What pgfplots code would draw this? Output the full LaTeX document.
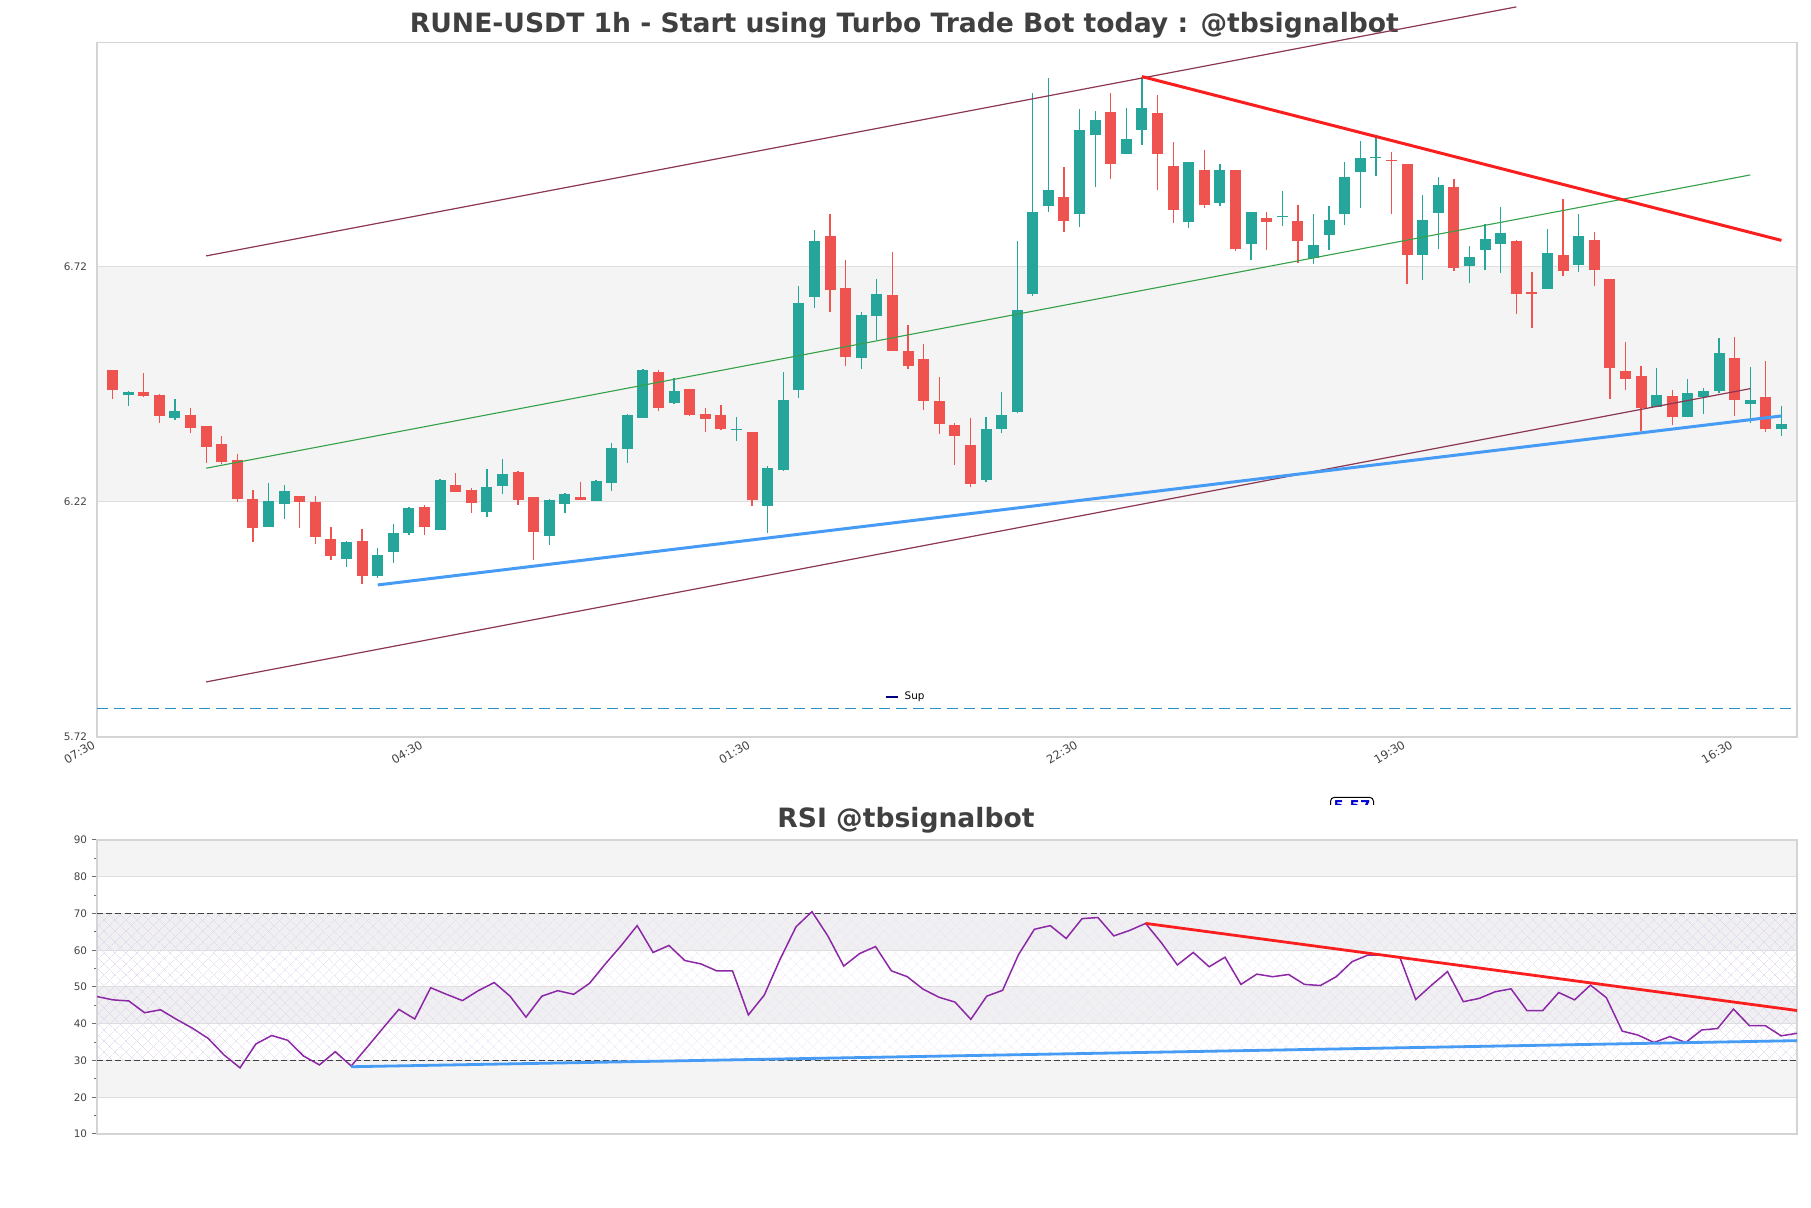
\documentclass[border=0pt]{standalone}
\usepackage{fontspec}
\setmainfont{DejaVu Sans}
\usepackage{pgfplots}
\pgfplotsset{compat=1.18}
\usepackage{pgfplotstable}
\usetikzlibrary{patterns.meta}
\definecolor{cgreen}{RGB}{38,166,154}
\definecolor{cred}{RGB}{239,83,80}
\definecolor{band}{RGB}{244,244,244}
\definecolor{band2}{RGB}{240,240,242}
\definecolor{gridgray}{RGB}{222,222,222}
\definecolor{bordergray}{RGB}{212,212,212}
\definecolor{chan}{RGB}{140,55,80}
\definecolor{midgreen}{RGB}{52,160,72}
\definecolor{resred}{RGB}{250,30,30}
\definecolor{supblue}{RGB}{70,155,245}
\definecolor{dashteal}{RGB}{40,145,195}
\definecolor{legnavy}{RGB}{0,0,128}
\definecolor{rsipurple}{RGB}{140,40,165}
\definecolor{hatch}{RGB}{215,200,232}
\definecolor{titlegray}{RGB}{64,64,64}
\definecolor{ticktext}{RGB}{68,68,68}
\definecolor{tickgray}{RGB}{110,110,110}
\definecolor{boxblue}{RGB}{0,0,205}
\newcommand{\tickfont}{\fontsize{5.2pt}{6pt}\selectfont}
\newcommand{\xtickfont}{\fontsize{5.8pt}{6.5pt}\selectfont}
\newcommand{\titlefont}{\fontsize{13.3pt}{15pt}\selectfont\bfseries}

\pgfplotstableread{
x o h l c
2 6.447 6.454 6.423 6.452
5 6.398 6.437 6.394 6.412
11 6.167 6.259 6.167 6.221
12 6.215 6.255 6.183 6.242
16 6.099 6.136 6.082 6.135
18 6.063 6.121 6.058 6.107
19 6.114 6.172 6.090 6.153
20 6.153 6.208 6.150 6.206
22 6.160 6.268 6.160 6.266
25 6.199 6.289 6.188 6.251
26 6.254 6.311 6.236 6.278
29 6.148 6.225 6.128 6.223
30 6.214 6.239 6.196 6.236
32 6.222 6.266 6.222 6.263
33 6.260 6.344 6.243 6.334
34 6.332 6.406 6.302 6.403
35 6.398 6.502 6.398 6.499
37 6.430 6.483 6.427 6.454
41 6.372 6.399 6.349 6.374
43 6.211 6.296 6.153 6.291
44 6.288 6.495 6.285 6.435
45 6.457 6.679 6.441 6.641
46 6.654 6.798 6.631 6.773
49 6.525 6.623 6.502 6.616
50 6.614 6.692 6.563 6.662
57 6.266 6.399 6.261 6.374
58 6.374 6.453 6.365 6.403
59 6.411 6.773 6.408 6.628
60 6.662 7.088 6.657 6.836
61 6.847 7.120 6.835 6.881
63 6.830 7.054 6.803 7.010
64 6.998 7.050 6.888 7.031
66 6.958 7.056 6.958 6.991
67 7.009 7.123 6.977 7.057
70 6.814 6.942 6.802 6.942
72 6.855 6.938 6.848 6.925
74 6.768 6.836 6.733 6.836
76 6.825 6.879 6.805 6.827
78 6.737 6.830 6.725 6.766
79 6.787 6.847 6.754 6.819
80 6.830 6.942 6.807 6.910
81 6.920 6.987 6.843 6.951
82 6.950 6.996 6.911 6.952
85 6.744 6.872 6.691 6.819
86 6.833 6.909 6.756 6.893
88 6.720 6.763 6.685 6.740
89 6.754 6.809 6.713 6.777
90 6.767 6.845 6.706 6.790
93 6.671 6.800 6.671 6.749
95 6.722 6.832 6.708 6.784
100 6.420 6.503 6.420 6.446
102 6.399 6.481 6.399 6.450
103 6.442 6.461 6.407 6.454
104 6.455 6.567 6.450 6.535
106 6.428 6.506 6.386 6.435
108 6.374 6.423 6.360 6.384
}\greendata

\pgfplotstableread{
x o h l c
1 6.499 6.499 6.437 6.457
3 6.453 6.493 6.442 6.445
4 6.446 6.448 6.387 6.402
6 6.403 6.418 6.365 6.377
7 6.380 6.380 6.303 6.336
8 6.342 6.360 6.300 6.305
9 6.308 6.321 6.220 6.225
10 6.225 6.245 6.135 6.165
13 6.232 6.232 6.165 6.220
14 6.220 6.232 6.131 6.145
15 6.141 6.166 6.095 6.105
17 6.136 6.162 6.044 6.061
21 6.208 6.213 6.150 6.167
23 6.255 6.280 6.241 6.241
24 6.244 6.250 6.196 6.218
27 6.283 6.285 6.213 6.224
28 6.230 6.230 6.097 6.156
31 6.230 6.261 6.223 6.224
36 6.495 6.499 6.413 6.419
38 6.459 6.459 6.402 6.404
39 6.406 6.418 6.368 6.396
40 6.403 6.425 6.372 6.374
42 6.367 6.367 6.211 6.224
47 6.785 6.832 6.623 6.669
48 6.673 6.734 6.508 6.528
51 6.660 6.750 6.540 6.540
52 6.541 6.596 6.502 6.509
53 6.522 6.555 6.415 6.434
54 6.433 6.484 6.364 6.385
55 6.382 6.387 6.297 6.360
56 6.340 6.397 6.252 6.257
62 6.867 6.931 6.793 6.816
65 7.048 7.088 6.905 6.937
68 7.045 7.084 6.881 6.958
69 6.934 6.983 6.811 6.839
71 6.925 6.968 6.843 6.850
73 6.925 6.925 6.752 6.756
75 6.823 6.835 6.754 6.814
77 6.817 6.851 6.727 6.773
83 6.946 6.962 6.830 6.944
84 6.938 6.938 6.682 6.744
87 6.889 6.906 6.710 6.716
91 6.773 6.775 6.618 6.661
92 6.666 6.708 6.589 6.662
94 6.745 6.862 6.700 6.710
96 6.775 6.792 6.678 6.712
97 6.692 6.692 6.439 6.504
98 6.497 6.559 6.457 6.481
99 6.486 6.508 6.370 6.418
101 6.444 6.457 6.383 6.399
105 6.526 6.570 6.402 6.436
107 6.442 6.518 6.367 6.374
}\reddata

\begin{document}
\begin{tikzpicture}
\path (0,0) rectangle (905.5pt,604pt);
\node[anchor=base, text=titlegray, font=\titlefont, inner sep=0pt] at (452.2pt,587.9pt) {RUNE-USDT 1h - Start using Turbo Trade Bot today : @tbsignalbot};
\node[anchor=base, text=titlegray, font=\titlefont, inner sep=0pt] at (453pt,190pt) {RSI @tbsignalbot};

\begin{scope}
\clip (655pt,201.5pt) rectangle (700pt,207pt);
\node[anchor=north, draw=black, line width=0.5pt, rounded corners=2pt, text=boxblue, font=\fontsize{7.5pt}{8pt}\selectfont\bfseries, inner sep=1.5pt] at (676pt,205.6pt) {5.57};
\end{scope}

\begin{axis}[
  set layers,
  at={(48.5pt,235.5pt)}, anchor=south west,
  scale only axis, width=850pt, height=347.15pt,
  xmin=0, xmax=109, ymin=5.72, ymax=7.195,
  clip=false,
  axis line style={draw=bordergray, line width=0.6pt},
  xtick={0,21,42,63,84,105},
  xticklabels={07:30,04:30,01:30,22:30,19:30,16:30},
  ytick={5.72,6.22,6.72},
  yticklabels={5.72,6.22,6.72},
  major tick length=0pt,
  ymajorgrids,
  grid style={draw=gridgray, line width=0.5pt},
  tick label style={font=\tickfont, text=ticktext},
  yticklabel style={anchor=east, inner sep=0pt, xshift=-4.8pt},
  xticklabel style={xshift=-2.6pt, yshift=-1.2pt, rotate=30, anchor=north east, inner sep=0pt, font=\xtickfont},
  legend style={at={(0.463,0.0576)}, anchor=west, draw=none, fill=none, font=\tickfont, inner sep=0pt, column sep=1pt, cells={anchor=west}},
  legend image post style={xscale=0.35},
]
\begin{pgfonlayer}{axis background}
\fill[band] (axis cs:0,6.22) rectangle (axis cs:109,6.72);
\end{pgfonlayer}

\addplot[draw=none, mark=none, forget plot, error bars/.cd, y dir=plus, y explicit, error mark=none, error bar style={line width=0.65pt, draw=cgreen}] table[x=x, y=l, y error plus expr={\thisrow{h}-\thisrow{l}}] {\greendata};
\addplot[draw=none, mark=none, forget plot, error bars/.cd, y dir=plus, y explicit, error mark=none, error bar style={line width=5.5pt, draw=cgreen}] table[x=x, y=o, y error plus expr={max(\thisrow{c}-\thisrow{o},0.0025)}] {\greendata};
\addplot[draw=none, mark=none, forget plot, error bars/.cd, y dir=plus, y explicit, error mark=none, error bar style={line width=0.65pt, draw=cred}] table[x=x, y=l, y error plus expr={\thisrow{h}-\thisrow{l}}] {\reddata};
\addplot[draw=none, mark=none, forget plot, error bars/.cd, y dir=plus, y explicit, error mark=none, error bar style={line width=5.5pt, draw=cred}] table[x=x, y=c, y error plus expr={max(\thisrow{o}-\thisrow{c},0.0025)}] {\reddata};

\addplot[chan, line width=0.6pt, forget plot] coordinates {(7,6.742) (91,7.271)};
\addplot[chan, line width=0.6pt, forget plot] coordinates {(7,5.837) (106,6.460)};
\addplot[midgreen, line width=0.55pt, forget plot] coordinates {(7,6.291) (106,6.914)};
\addplot[resred, line width=1.5pt, forget plot] coordinates {(67,7.123) (108,6.775)};
\addplot[supblue, line width=1.5pt, forget plot] coordinates {(18,6.043) (108,6.402)};
\addplot[dashteal, line width=0.75pt, dash pattern=on 5.5pt off 3pt, forget plot] coordinates {(0,5.781) (109,5.781)};

\addlegendimage{legnavy, line width=1.1pt}
\addlegendentry{Sup}
\end{axis}

\begin{axis}[
  set layers,
  at={(48.5pt,37pt)}, anchor=south west,
  scale only axis, width=850pt, height=147pt,
  xmin=1, xmax=108, ymin=10, ymax=90,
  xtick=\empty,
  ytick={10,20,...,90},
  yticklabels={10,20,30,40,50,60,70,80,90},
  minor ytick={15,25,...,85},
  ytick pos=left,
  tick align=outside,
  major tick length=2.7pt, minor tick length=1.4pt,
  tick style={draw=tickgray, line width=0.5pt},
  ymajorgrids,
  grid style={draw=gridgray, line width=0.5pt},
  axis line style={draw=bordergray, line width=0.6pt},
  tick label style={font=\tickfont, text=ticktext},
  yticklabel style={anchor=east, inner sep=0pt, xshift=-2.1pt},
]
\begin{pgfonlayer}{axis background}
\fill[band] (axis cs:1,80) rectangle (axis cs:108,90);
\fill[band2] (axis cs:1,60) rectangle (axis cs:108,70);
\fill[band2] (axis cs:1,40) rectangle (axis cs:108,50);
\fill[band] (axis cs:1,20) rectangle (axis cs:108,30);
\fill[pattern={Lines[angle=45,distance=4pt,line width=0.25pt]}, pattern color=hatch] (axis cs:1,30) rectangle (axis cs:108,70);
\fill[pattern={Lines[angle=-45,distance=4pt,line width=0.25pt]}, pattern color=hatch] (axis cs:1,30) rectangle (axis cs:108,70);
\end{pgfonlayer}

\addplot[black!75, line width=0.6pt, dash pattern=on 3pt off 1.6pt] coordinates {(1,70) (108,70)};
\addplot[black!75, line width=0.6pt, dash pattern=on 3pt off 1.6pt] coordinates {(1,30) (108,30)};

\addplot[rsipurple, line width=0.75pt] coordinates {(1,47.4)(2,46.5)(3,46.2)(4,43.0)(5,43.8)(6,41.2)(7,38.8)(8,36.0)(9,31.5)(10,28.0)(11,34.5)(12,36.8)(13,35.5)(14,31.2)(15,28.8)(16,32.4)(17,28.5)(18,33.6)(19,38.8)(20,43.9)(21,41.3)(22,49.8)(23,48.0)(24,46.3)(25,49.0)(26,51.2)(27,47.5)(28,41.8)(29,47.5)(30,49.0)(31,48.0)(32,51.0)(33,56.3)(34,61.3)(35,66.7)(36,59.4)(37,61.3)(38,57.2)(39,56.3)(40,54.4)(41,54.4)(42,42.4)(43,47.8)(44,57.6)(45,66.4)(46,70.5)(47,63.9)(48,55.7)(49,59.1)(50,61.0)(51,54.4)(52,52.8)(53,49.4)(54,47.2)(55,45.9)(56,41.2)(57,47.5)(58,49.1)(59,58.8)(60,65.7)(61,66.7)(62,63.2)(63,68.6)(64,68.9)(65,63.9)(66,65.4)(67,67.3)(68,62.0)(69,56.0)(70,59.4)(71,55.5)(72,58.1)(73,50.7)(74,53.5)(75,52.8)(76,53.4)(77,50.7)(78,50.4)(79,52.8)(80,56.9)(81,58.7)(82,58.7)(83,58.1)(84,46.6)(85,50.5)(86,54.2)(87,46.0)(88,46.9)(89,48.7)(90,49.5)(91,43.6)(92,43.6)(93,48.5)(94,46.5)(95,50.5)(96,47.1)(97,38.0)(98,36.9)(99,34.9)(100,36.5)(101,34.9)(102,38.3)(103,38.7)(104,44.0)(105,39.5)(106,39.5)(107,36.7)(108,37.4)};

\addplot[resred, line width=1.4pt] coordinates {(67,67.3) (108,43.6)};
\addplot[supblue, line width=1.4pt] coordinates {(17,28.3) (108,35.4)};
\end{axis}
\end{tikzpicture}
\end{document}
